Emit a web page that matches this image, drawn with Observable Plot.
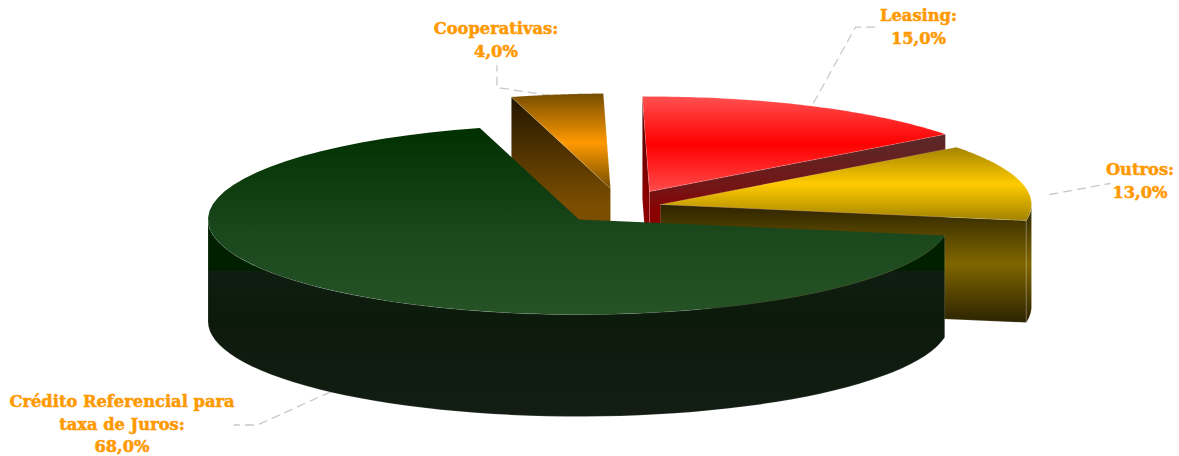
<!DOCTYPE html>
<html>
<head>
<meta charset="utf-8">
<script src="https://cdn.jsdelivr.net/npm/d3@7"></script>
<script src="https://cdn.jsdelivr.net/npm/@observablehq/plot@0.6"></script>
<style>
  html, body { margin: 0; padding: 0; background: #fff; }
  svg { display: block; }
</style>
</head>
<body>
<div id="chart"></div>
<script>
// Credit market shares, in slice order (clockwise).
const categories = ["Crédito Referencial para\ntaxa de Juros", "Cooperativas", "Leasing", "Outros"];
const shares = [68, 4, 15, 13];

// Pie geometry in plot units.
const center = [578.5, 219];
const radiusX = 371, radiusY = 95, depth = 102;
const firstAngle = 9.7 * Math.PI / 180;
const explode = [[0, 0], [31.5, -31], [70.5, -28], [81.5, -15]];

// Label block centres and leader bends relative to each slice's anchor point.
const labelX = [121.5, 495.5, 918, 1139.5];
const labelY = [422, 38, 25, 179];
const leaderBends = [
  [[0, 0], [-73, 33], [-96, 33]],
  [[-7, 1], [-60, -7], [-60, -29]],
  [[2, -3], [44, -79], [64, -79]],
  [[29, 12.5], [89, 1.5]]
];

// Vertical gradients: [offset, colour] stops.
const paints = {
  topGreen: [[0, "#003000"], [0.55, "#1a471c"], [1, "#255326"]],
  wallGreen: [[0, "#002000"], [0.26, "#002000"], [0.26, "#101e12"], [0.5, "#0c1a0b"], [1, "#131d14"]],
  topOrange: [[0, "#754d00"], [0.52, "#ff9900"], [1, "#754d00"]],
  sideOrange: [[0, "#241600"], [0.55, "#7a4d00"], [1, "#7f5000"]],
  topRed: [[0, "#ff5050"], [0.5, "#ff0000"], [1, "#ff4a4a"]],
  sideRed: [[0, "#5a2a2a"], [0.35, "#751414"], [0.48, "#8b0000"], [1, "#8b0000"]],
  startRed: [[0, "#4a0000"], [0.5, "#8b0000"], [1, "#8b0000"]],
  topYellow: [[0, "#a38300"], [0.5, "#ffcc00"], [1, "#a38300"]],
  sideYellow: [[0, "#2c2300"], [0.5, "#806600"], [1, "#2c2300"]]
};
const sliceFaces = [
  {top: "topGreen", arc: "wallGreen"},
  {top: "topOrange", start: "sideOrange"},
  {top: "topRed", start: "startRed", end: "sideRed"},
  {top: "topYellow", end: "sideYellow", arc: "sideYellow"}
];

const slices = d3.pie().sort(null).startAngle(firstAngle).endAngle(firstAngle + 2 * Math.PI)(shares)
  .map((s, i) => ({...s, apex: [center[0] + explode[i][0], center[1] + explode[i][1]]}));

const rim = (s, a, drop = 0) => [
  s.apex[0] + radiusX * Math.cos(a),
  s.apex[1] + radiusY * Math.sin(a) + drop
];
const arcPoints = (s, a0, a1, drop = 0) => d3.range(0, 61).map(k => rim(s, a0 + (a1 - a0) * k / 60, drop));
const lowered = ([x, y]) => [x, y + depth];

// Only the part of the rim that faces the viewer (sin > 0) is extruded.
function frontArc(s) {
  const spans = [];
  for (const [lo, hi] of [[0, Math.PI], [2 * Math.PI, 3 * Math.PI]]) {
    const a0 = Math.max(s.startAngle, lo), a1 = Math.min(s.endAngle, hi);
    if (a1 > a0) spans.push([a0, a1]);
  }
  return spans;
}

const face = (points, paint, edge) => Plot.line([...points, points[0]], {
  x: d => d[0],
  y: d => d[1],
  fill: `url(#${paint})`,
  stroke: edge ? "#ffffff" : "none",
  strokeOpacity: edge ? 0.25 : 1,
  strokeWidth: 0.6,
  curve: "linear"
});

// Each slice is painted back to front; the largest one sits in front of the rest.
const sliceMarks = [];
for (const i of [1, 2, 3, 0]) {
  const s = slices[i], f = sliceFaces[i];
  const a = rim(s, s.startAngle), b = rim(s, s.endAngle);
  if (f.start) sliceMarks.push(face([a, s.apex, lowered(s.apex), lowered(a)], f.start, true));
  if (f.end) sliceMarks.push(face([s.apex, b, lowered(b), lowered(s.apex)], f.end, true));
  if (f.arc) for (const [a0, a1] of frontArc(s)) {
    sliceMarks.push(face([...arcPoints(s, a0, a1), ...arcPoints(s, a1, a0, depth)], f.arc, true));
  }
  sliceMarks.push(face([s.apex, ...arcPoints(s, s.startAngle, s.endAngle)], f.top, i !== 0));
}

// Leader lines start from the rim at each slice's middle angle.
const leaders = slices.flatMap((s, i) => {
  const mid = (s.startAngle + s.endAngle) / 2;
  const anchor = rim(s, mid, i === 0 ? depth : 0);
  return leaderBends[i].map(([dx, dy]) => ({slice: i, x: anchor[0] + dx, y: anchor[1] + dy}));
});

const labels = categories.map((name, i) => ({
  x: labelX[i],
  y: labelY[i],
  text: `${name}:\n${shares[i].toFixed(1).replace(".", ",")}%`
}));

const gradientDefs = () => {
  const defs = d3.create("svg:defs");
  for (const [id, stops] of Object.entries(paints)) {
    const g = defs.append("linearGradient").attr("id", id)
      .attr("x1", 0).attr("y1", 0).attr("x2", 0).attr("y2", 1);
    for (const [offset, colour] of stops) {
      g.append("stop").attr("offset", offset).attr("stop-color", colour);
    }
  }
  return defs.node();
};

const chart = Plot.plot({
  width: 1179,
  height: 456,
  margin: 0,
  style: {background: "#fff"},
  x: {domain: [0, 1179], range: [0, 1179], axis: null},
  y: {domain: [0, 456], range: [0, 456], axis: null},
  marks: [
    gradientDefs,
    Plot.line(leaders, {
      x: "x", y: "y", z: "slice",
      stroke: "#c8c8c8", strokeWidth: 1.3, strokeDasharray: "8 6", curve: "linear"
    }),
    ...sliceMarks,
    Plot.text(labels, {
      x: "x", y: "y", text: "text",
      fill: "#ff9900",
      stroke: "#ff9900",
      strokeWidth: 0.5,
      fontFamily: "'DejaVu Serif'",
      fontWeight: "bold",
      fontSize: 16.3,
      lineHeight: 1.39
    })
  ]
});
document.getElementById("chart").append(chart);
</script>
</body>
</html>
